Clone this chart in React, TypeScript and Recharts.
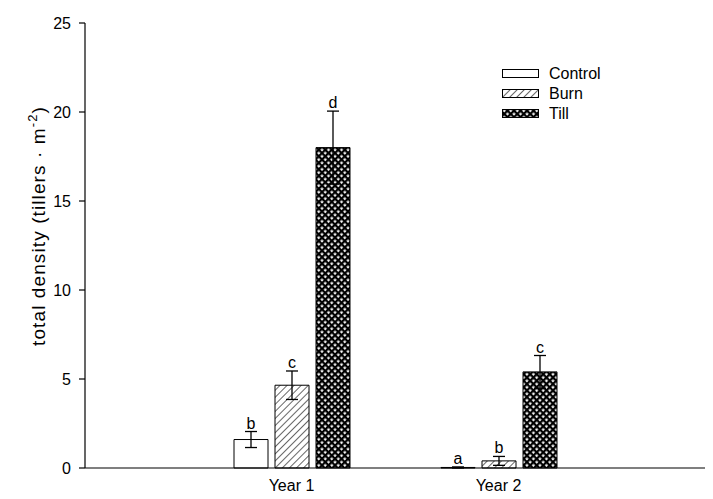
import React from 'react';
import { BarChart, Bar, XAxis, YAxis, ErrorBar, LabelList } from 'recharts';

const years = ['Year 1', 'Year 2'];
const controlValues = [1.6, 0.03];
const controlErrors = [0.45, 0.03];
const burnValues = [4.65, 0.4];
const burnErrors = [0.8, 0.25];
const tillValues = [18.0, 5.4];
const tillErrors = [2.05, 0.92];
const controlLetters = ['b', 'a'];
const burnLetters = ['c', 'b'];
const tillLetters = ['d', 'c'];
const yTicks = [0, 5, 10, 15, 20, 25];

const W = 713;
const H = 499;
const M = { top: 23, right: 8, left: 25, bottom: 0 };
const X_AXIS_H = 31;
const Y_MAX = 25;
const PLOT_H = H - M.top - M.bottom - X_AXIS_H;
const FONT = 'Arial, "Liberation Sans", Helvetica, sans-serif';

const data = years.map((year, i) => ({
  year,
  control: controlValues[i],
  controlErr: controlErrors[i],
  controlLetter: controlLetters[i],
  burn: burnValues[i],
  burnErr: burnErrors[i],
  burnLetter: burnLetters[i],
  till: tillValues[i],
  tillErr: tillErrors[i],
  tillLetter: tillLetters[i],
}));

const Patterns = ({ suffix }: { suffix: string }) => (
  <defs>
    <pattern id={`burn${suffix}`} width="5" height="5" patternUnits="userSpaceOnUse" patternTransform="rotate(45)">
      <rect width="5" height="5" fill="#fff" />
      <line x1="0" y1="0" x2="0" y2="5" stroke="#000" strokeWidth="1.2" />
    </pattern>
    <pattern id={`till${suffix}`} width="4.6" height="4.6" patternUnits="userSpaceOnUse" patternTransform="rotate(45)">
      <rect width="4.6" height="4.6" fill="#000" />
      <rect x="1.3" y="1.3" width="2.3" height="2.3" fill="#fff" />
    </pattern>
  </defs>
);

// letter placed just above the top of the error bar
const makeLetter = (values: number[], errors: number[]) => (props: any) => {
  const { x, y, width, height, value, index } = props;
  const base = Number(y) + Number(height);
  const top = base - ((values[index] + errors[index]) / Y_MAX) * PLOT_H;
  return (
    <text x={Number(x) + Number(width) / 2} y={top - 3} textAnchor="middle" fontSize={16} fontFamily={FONT} fill="#000">
      {value}
    </text>
  );
};

const legendItems = [
  { name: 'Control', fill: '#fff' },
  { name: 'Burn', fill: 'url(#burnL)' },
  { name: 'Till', fill: 'url(#tillL)' },
];

const ChartLegend = () => (
  <svg width={120} height={62} style={{ position: 'absolute', left: 501, top: 64 }}>
    <Patterns suffix="L" />
    {legendItems.map((it, i) => (
      <g key={it.name} transform={`translate(0, ${i * 20})`}>
        <rect x={1.5} y={5.5} width={36} height={8} fill={it.fill} stroke="#000" strokeWidth={1} />
        <text x={48} y={15} fontSize={16} fontFamily={FONT} fill="#000">{it.name}</text>
      </g>
    ))}
  </svg>
);

const YLabel = () => {
  const cx = 45;
  const cy = 226;
  return (
    <text x={cx} y={cy} transform={`rotate(-90 ${cx} ${cy})`} textAnchor="middle" fontSize={19} letterSpacing={1.1} fontFamily={FONT} fill="#000">
      total density (tillers · m<tspan dy={-8} fontSize={13}>-2</tspan><tspan dy={8}>)</tspan>
    </text>
  );
};

export default function App() {
  return (
    <div style={{ position: 'absolute', left: 0, top: 0, width: W, height: H, background: '#fff' }}>
      <BarChart width={W} height={H} data={data} margin={M} barGap={7}>
        <Patterns suffix="" />
        <XAxis
          dataKey="year"
          padding={{ left: 103, right: 103 }}
          height={X_AXIS_H}
          tickLine={false}
          tickMargin={6}
          axisLine={{ stroke: '#000', strokeWidth: 1.2 }}
          tick={{ fill: '#000', fontSize: 16, fontFamily: FONT }}
        />
        <YAxis
          domain={[0, Y_MAX]}
          ticks={yTicks}
          width={60}
          tickSize={6}
          tickMargin={8}
          interval={0}
          axisLine={{ stroke: '#000', strokeWidth: 1.2 }}
          tickLine={{ stroke: '#000', strokeWidth: 1.2 }}
          tick={{ fill: '#000', fontSize: 16, fontFamily: FONT }}
          label={<YLabel />}
        />
        <Bar dataKey="control" name="Control" barSize={34} fill="#fff" stroke="#000" strokeWidth={1} isAnimationActive={false}>
          <ErrorBar dataKey="controlErr" width={6} stroke="#000" strokeWidth={1.3} />
          <LabelList dataKey="controlLetter" content={makeLetter(controlValues, controlErrors)} />
        </Bar>
        <Bar dataKey="burn" name="Burn" barSize={34} fill="url(#burn)" stroke="#000" strokeWidth={1} isAnimationActive={false}>
          <ErrorBar dataKey="burnErr" width={6} stroke="#000" strokeWidth={1.3} />
          <LabelList dataKey="burnLetter" content={makeLetter(burnValues, burnErrors)} />
        </Bar>
        <Bar dataKey="till" name="Till" barSize={34} fill="url(#till)" stroke="#000" strokeWidth={1} isAnimationActive={false}>
          <ErrorBar dataKey="tillErr" width={6} stroke="#000" strokeWidth={1.3} />
          <LabelList dataKey="tillLetter" content={makeLetter(tillValues, tillErrors)} />
        </Bar>
      </BarChart>
      <ChartLegend />
    </div>
  );
}
